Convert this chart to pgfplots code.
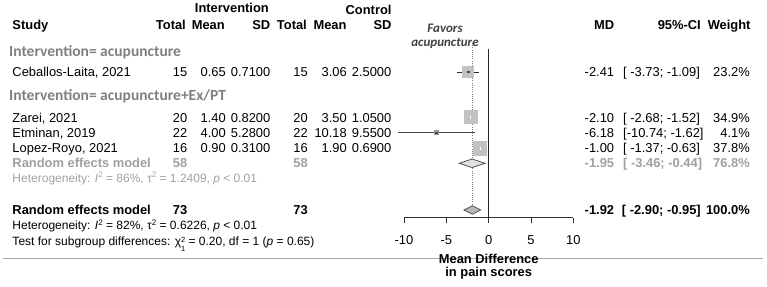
\documentclass[border=0pt]{standalone}
\usepackage{pgfplots}
\pgfplotsset{compat=1.18}
\usepackage{fontspec}
\setmainfont{Liberation Sans}
\newfontfamily\calib{Carlito}

\definecolor{boxgray}{HTML}{C2C2C2}
\definecolor{subgray}{HTML}{A0A0A0}
\definecolor{labgray}{HTML}{808080}
\definecolor{rulegray}{HTML}{A8A8A8}
\definecolor{edgegray}{HTML}{505050}

\newcommand\mainf{\fontsize{12.9}{15}\selectfont}
\newcommand\hetf{\fontsize{12}{14}\selectfont}
\newcommand\sups[1]{\raisebox{0.75ex}{\fontsize{8}{8}\selectfont #1}}
% right-aligned and left-aligned text at a baseline
\newcommand\R[3]{\node[anchor=base east, inner sep=0pt] at (#1,#2) {#3};}
\newcommand\Lf[3]{\node[anchor=base west, inner sep=0pt] at (#1,#2) {#3};}

\begin{document}
\begin{tikzpicture}
\useasboundingbox (0,0) rectangle (767pt,286pt);

\begin{axis}[
  at={(404pt,68.3pt)}, anchor=south west,
  width=169.3pt, height=177.7pt, scale only axis,
  xmin=-10, xmax=10, ymin=68.3, ymax=246,
  clip=false,
  axis x line=bottom, axis y line=none,
  x axis line style={-, line width=0.9pt, draw=black!80},
  xtick={-10,-5,0,5,10}, xticklabels={-10,-5,0,5,10},
  xtick align=outside, major tick length=5.6pt,
  xtick style={line width=0.9pt, draw=black!80},
  xticklabel style={font=\mainf, yshift=-9pt},
  ytick=\empty,
]
% line of no effect and overall estimate
\addplot[black!85, line width=0.8pt] coordinates {(0,236.7) (0,68.3)};
\addplot[gray, line width=0.8pt, dash pattern=on 0.8pt off 1.4pt] coordinates {(-1.92,243) (-1.92,80)};

% Ceballos-Laita, 2021
\addplot[black!85, line width=0.8pt] coordinates {(-3.73,214) (-1.09,214)};
\addplot[only marks, mark=square*, mark size={1.1*sqrt(23.2)}, mark options={fill=boxgray, draw=boxgray, line width=0pt}] coordinates {(-2.41,214)};
\addplot[only marks, mark=square*, mark size=0.7, mark options={fill=black!70, draw=black!70}] coordinates {(-2.41,214)};

% Zarei, 2021
\addplot[only marks, mark=square*, mark size={1.1*sqrt(34.9)}, mark options={fill=boxgray, draw=boxgray, line width=0pt}] coordinates {(-2.10,168.5)};
\addplot[white, line width=0.8pt] coordinates {(-2.68,168.5) (-1.52,168.5)};
\addplot[only marks, mark=|, mark size=1.6, mark options={draw=white, line width=0.8pt}] coordinates {(-2.10,168.5)};

% Etminan, 2019
\addplot[black!70, line width=0.8pt] coordinates {(-10.74,153.3) (-1.62,153.3)};
\addplot[only marks, mark=square*, mark size={1.1*sqrt(4.1)}, mark options={fill=boxgray!80!black, draw=boxgray!80!black, line width=0pt}] coordinates {(-6.18,153.3)};
\addplot[only marks, mark=square*, mark size=0.7, mark options={fill=black!70, draw=black!70}] coordinates {(-6.18,153.3)};

% Lopez-Royo, 2021
\addplot[only marks, mark=square*, mark size={1.1*sqrt(37.8)}, mark options={fill=boxgray, draw=boxgray, line width=0pt}] coordinates {(-1.00,137.7)};
\addplot[white, line width=0.8pt] coordinates {(-1.37,137.7) (-0.63,137.7)};
\addplot[only marks, mark=|, mark size=1.6, mark options={draw=white, line width=0.8pt}] coordinates {(-1.00,137.7)};

% subgroup pooled estimate
\addplot[fill=gray!25, draw=edgegray, line width=0.8pt] coordinates {(-3.46,122.7) (-1.95,127) (-0.44,122.7) (-1.95,118.4)} -- cycle;
% overall pooled estimate
\addplot[fill=gray!55, draw=edgegray, line width=0.8pt] coordinates {(-2.90,76) (-1.92,80.2) (-0.95,76) (-1.92,71.8)} -- cycle;
\end{axis}

\begin{scope}[x=1pt, y=1pt]
\draw[rulegray, line width=0.9pt] (3,28) -- (763,28);

% column headers
\mainf\bfseries
\R{269}{273}{Intervention}
\R{391.7}{271}{Control}
\Lf{12.3}{256}{Study}
\R{186}{256}{Total}
\R{225}{256}{Mean}
\R{270.5}{256}{SD}
\R{307}{256}{Total}
\R{346.7}{256}{Mean}
\R{391.7}{256}{SD}
\R{614.3}{256}{MD}
\R{701}{256}{95\%-CI}
\R{750.7}{256}{Weight}

\node[anchor=base, inner sep=0pt, font=\calib\itshape\fontsize{13}{14}\selectfont, text=black!75] at (445,253) {Favors};
\node[anchor=base, inner sep=0pt, font=\calib\itshape\fontsize{13}{14}\selectfont, text=black!75] at (445,239) {acupuncture};

% subgroup: acupuncture
\node[anchor=base west, inner sep=0pt, font=\calib\bfseries\fontsize{15.5}{17}\selectfont, text=labgray] at (9,229) {Intervention= acupuncture};

\mdseries
\Lf{12.3}{209}{Ceballos-Laita, 2021}
\R{187.5}{209}{15}\R{226}{209}{0.65}\R{270.5}{209}{0.7100}
\R{308}{209}{15}\R{347}{209}{3.06}\R{391.5}{209}{2.5000}
\R{614.3}{209}{-2.41}\Lf{623}{209}{[ -3.73; -1.09]}\R{750}{209}{23.2\%}

% subgroup: acupuncture+Ex/PT
\node[anchor=base west, inner sep=0pt, font=\calib\bfseries\fontsize{15.5}{17}\selectfont, text=labgray] at (9,185.5) {Intervention= acupuncture+Ex/PT};

\Lf{12.3}{163.5}{Zarei, 2021}
\R{187.5}{163.5}{20}\R{226}{163.5}{1.40}\R{270.5}{163.5}{0.8200}
\R{308}{163.5}{20}\R{347}{163.5}{3.50}\R{391.5}{163.5}{1.0500}
\R{614.3}{163.5}{-2.10}\Lf{623}{163.5}{[ -2.68; -1.52]}\R{750}{163.5}{34.9\%}

\Lf{12.3}{148.5}{Etminan, 2019}
\R{187.5}{148.5}{22}\R{226}{148.5}{4.00}\R{270.5}{148.5}{5.2800}
\R{308}{148.5}{22}\R{347}{148.5}{10.18}\R{391.5}{148.5}{9.5500}
\R{614.3}{148.5}{-6.18}\Lf{623}{148.5}{[-10.74; -1.62]}\R{750}{148.5}{4.1\%}

\Lf{12.3}{133}{Lopez-Royo, 2021}
\R{187.5}{133}{16}\R{226}{133}{0.90}\R{270.5}{133}{0.3100}
\R{308}{133}{16}\R{347}{133}{1.90}\R{391.5}{133}{0.6900}
\R{614.3}{133}{-1.00}\Lf{623}{133}{[ -1.37; -0.63]}\R{750}{133}{37.8\%}

\begin{scope}[text=subgray]
\bfseries
\Lf{12.3}{118}{Random effects model}
\R{187.5}{118}{58}\R{308}{118}{58}
\R{614.3}{118}{-1.95}\Lf{623}{118}{[ -3.46; -0.44]}\R{750}{118}{76.8\%}
\mdseries\hetf
\Lf{12.3}{103.5}{Heterogeneity: \textit{I}\sups{2} = 86\%, τ\sups{2} = 1.2409, \textit{p} < 0.01}
\end{scope}

% overall
\bfseries
\Lf{12.3}{71}{Random effects model}
\R{187.5}{71}{73}\R{308}{71}{73}
\R{614.3}{71}{-1.92}\Lf{621.7}{71}{[ -2.90; -0.95]}\R{750}{71}{100.0\%}
\mdseries\hetf
\Lf{12.3}{56}{Heterogeneity: \textit{I}\sups{2} = 82\%, τ\sups{2} = 0.6226, \textit{p} < 0.01}
\Lf{12.3}{40}{Test for subgroup differences: χ\raisebox{-0.8ex}{\fontsize{7.5}{8.6}\selectfont\begin{tabular}[b]{@{}l@{}}2\\1\end{tabular}} = 0.20, df = 1 (\textit{p} = 0.65)}

% scale title
\mainf\bfseries
\node[anchor=base, inner sep=0pt] at (488.7,22) {Mean Difference};
\node[anchor=base, inner sep=0pt] at (488.7,9.5) {in pain scores};
\end{scope}
\end{tikzpicture}
\end{document}
